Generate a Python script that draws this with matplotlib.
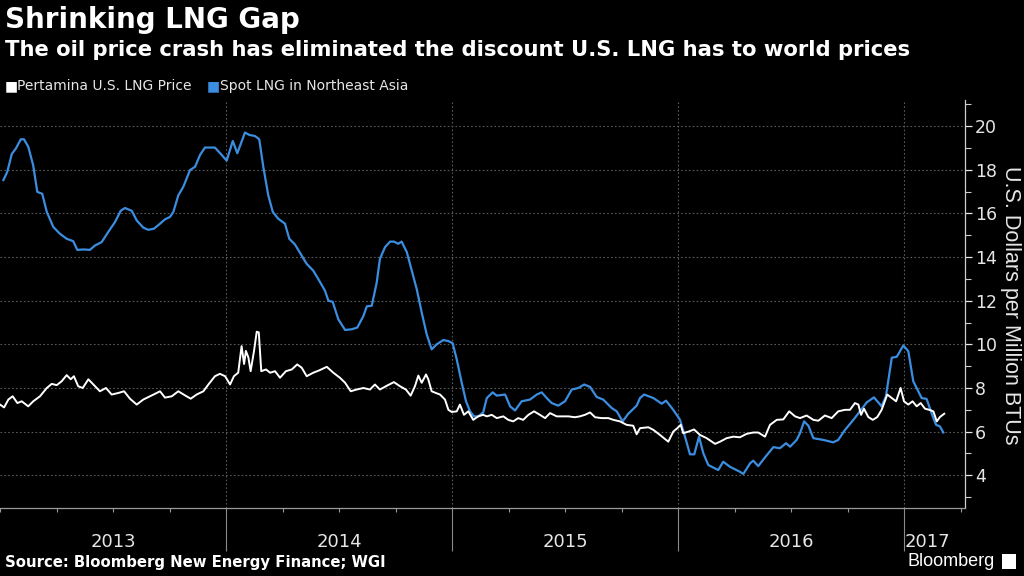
import matplotlib
matplotlib.use("Agg")
import matplotlib.pyplot as plt
import matplotlib.transforms as mtransforms
from matplotlib.ticker import MultipleLocator, FixedLocator
import numpy as np

# ---------------- data (decimal years, US$/MMBtu) ----------------
spot_x = [2013.015, 2013.032, 2013.052, 2013.071, 2013.092, 2013.106, 2013.125, 2013.147, 2013.165, 2013.187,
          2013.207, 2013.236, 2013.265, 2013.295, 2013.324, 2013.342, 2013.369, 2013.398, 2013.420, 2013.450,
          2013.479, 2013.509, 2013.534, 2013.553, 2013.583, 2013.605, 2013.634, 2013.656, 2013.681, 2013.708,
          2013.730, 2013.752, 2013.767, 2013.789, 2013.811, 2013.841, 2013.863, 2013.885, 2013.907, 2013.951,
          2013.981, 2014.003, 2014.030, 2014.050, 2014.084, 2014.103, 2014.128, 2014.147, 2014.165, 2014.187,
          2014.207, 2014.231, 2014.261, 2014.280, 2014.305, 2014.335, 2014.357, 2014.386, 2014.408, 2014.438,
          2014.453, 2014.472, 2014.497, 2014.527, 2014.556, 2014.581, 2014.608, 2014.623, 2014.645, 2014.667,
          2014.681, 2014.704, 2014.726, 2014.743, 2014.762, 2014.777, 2014.800, 2014.822, 2014.844, 2014.866,
          2014.888, 2014.910, 2014.932, 2014.962, 2014.984, 2015.003, 2015.021, 2015.043, 2015.062, 2015.080,
          2015.097, 2015.116, 2015.138, 2015.154, 2015.180, 2015.198, 2015.235, 2015.257, 2015.279, 2015.308,
          2015.345, 2015.375, 2015.397, 2015.419, 2015.441, 2015.470, 2015.500, 2015.530, 2015.559, 2015.585,
          2015.611, 2015.640, 2015.669, 2015.707, 2015.729, 2015.755, 2015.780, 2015.817, 2015.832, 2015.850,
          2015.891, 2015.928, 2015.947, 2015.979, 2016.009, 2016.031, 2016.053, 2016.072, 2016.093, 2016.112,
          2016.134, 2016.178, 2016.200, 2016.230, 2016.274, 2016.289, 2016.319, 2016.333, 2016.355, 2016.385,
          2016.422, 2016.451, 2016.478, 2016.496, 2016.525, 2016.540, 2016.558, 2016.577, 2016.599, 2016.643,
          2016.687, 2016.709, 2016.739, 2016.776, 2016.805, 2016.835, 2016.867, 2016.901, 2016.920, 2016.946,
          2016.968, 2016.997, 2017.019, 2017.041, 2017.078, 2017.100, 2017.127, 2017.142, 2017.159, 2017.174]
spot_y = [17.53, 17.90, 18.72, 18.99, 19.40, 19.40, 19.06, 18.20, 16.99, 16.90,
          16.07, 15.38, 15.07, 14.84, 14.73, 14.33, 14.35, 14.33, 14.53, 14.69,
          15.15, 15.61, 16.12, 16.25, 16.12, 15.68, 15.35, 15.25, 15.30, 15.53,
          15.73, 15.84, 16.07, 16.83, 17.22, 17.99, 18.14, 18.68, 19.02, 19.02,
          18.68, 18.42, 19.32, 18.76, 19.71, 19.60, 19.55, 19.40, 18.14, 16.83,
          16.07, 15.76, 15.53, 14.84, 14.58, 14.07, 13.69, 13.38, 13.00, 12.46,
          12.00, 11.95, 11.15, 10.66, 10.69, 10.77, 11.30, 11.74, 11.77, 12.84,
          13.92, 14.46, 14.71, 14.71, 14.61, 14.71, 14.23, 13.38, 12.53, 11.46,
          10.46, 9.77, 10.00, 10.20, 10.15, 10.05, 9.31, 8.24, 7.39, 6.93,
          6.70, 6.70, 6.88, 7.54, 7.80, 7.65, 7.70, 7.16, 6.97, 7.39,
          7.47, 7.70, 7.80, 7.54, 7.31, 7.19, 7.39, 7.93, 8.00, 8.16,
          8.05, 7.59, 7.47, 7.08, 6.93, 6.47, 6.82, 7.19, 7.54, 7.70,
          7.54, 7.28, 7.42, 7.00, 6.54, 5.77, 4.96, 4.96, 5.77, 5.01,
          4.47, 4.24, 4.62, 4.39, 4.16, 4.06, 4.55, 4.67, 4.42, 4.82,
          5.29, 5.24, 5.47, 5.31, 5.62, 5.93, 6.47, 6.27, 5.70, 5.62,
          5.51, 5.62, 6.08, 6.54, 6.93, 7.34, 7.57, 7.16, 7.62, 9.39,
          9.43, 9.95, 9.69, 8.31, 7.54, 7.50, 6.70, 6.31, 6.24, 5.96]

pert_x = [2013.000, 2013.018, 2013.037, 2013.056, 2013.077, 2013.096, 2013.125, 2013.147, 2013.177, 2013.207,
          2013.229, 2013.251, 2013.273, 2013.295, 2013.313, 2013.327, 2013.346, 2013.366, 2013.391, 2013.413,
          2013.442, 2013.469, 2013.494, 2013.523, 2013.549, 2013.575, 2013.605, 2013.634, 2013.664, 2013.693,
          2013.708, 2013.730, 2013.760, 2013.789, 2013.819, 2013.844, 2013.870, 2013.900, 2013.922, 2013.951,
          2013.973, 2013.996, 2014.018, 2014.035, 2014.054, 2014.069, 2014.080, 2014.088, 2014.099, 2014.109,
          2014.124, 2014.136, 2014.145, 2014.156, 2014.177, 2014.195, 2014.217, 2014.239, 2014.265, 2014.291,
          2014.315, 2014.335, 2014.357, 2014.386, 2014.413, 2014.446, 2014.475, 2014.504, 2014.527, 2014.552,
          2014.578, 2014.608, 2014.637, 2014.659, 2014.681, 2014.711, 2014.743, 2014.770, 2014.796, 2014.817,
          2014.836, 2014.851, 2014.866, 2014.885, 2014.895, 2014.910, 2014.929, 2014.947, 2014.969, 2014.984,
          2014.999, 2015.021, 2015.035, 2015.053, 2015.072, 2015.094, 2015.116, 2015.138, 2015.154, 2015.176,
          2015.198, 2015.227, 2015.249, 2015.271, 2015.293, 2015.315, 2015.338, 2015.363, 2015.389, 2015.412,
          2015.434, 2015.463, 2015.492, 2015.515, 2015.544, 2015.566, 2015.588, 2015.611, 2015.633, 2015.662,
          2015.692, 2015.714, 2015.743, 2015.773, 2015.802, 2015.817, 2015.832, 2015.869, 2015.891, 2015.920,
          2015.957, 2015.979, 2015.997, 2016.012, 2016.023, 2016.046, 2016.071, 2016.097, 2016.127, 2016.164,
          2016.186, 2016.215, 2016.245, 2016.274, 2016.304, 2016.333, 2016.355, 2016.385, 2016.407, 2016.437,
          2016.466, 2016.492, 2016.518, 2016.540, 2016.569, 2016.599, 2016.621, 2016.650, 2016.680, 2016.709,
          2016.739, 2016.761, 2016.783, 2016.798, 2016.810, 2016.823, 2016.842, 2016.862, 2016.882, 2016.901,
          2016.926, 2016.946, 2016.965, 2016.985, 2017.000, 2017.019, 2017.038, 2017.056, 2017.074, 2017.093,
          2017.112, 2017.130, 2017.145, 2017.159, 2017.178]
pert_y = [7.24, 7.11, 7.47, 7.62, 7.31, 7.39, 7.16, 7.39, 7.62, 8.00,
          8.19, 8.13, 8.31, 8.59, 8.40, 8.54, 8.08, 8.00, 8.40, 8.16,
          7.85, 8.00, 7.70, 7.77, 7.85, 7.51, 7.24, 7.47, 7.62, 7.77,
          7.85, 7.56, 7.62, 7.85, 7.66, 7.51, 7.70, 7.85, 8.16, 8.54,
          8.65, 8.54, 8.16, 8.54, 8.70, 9.92, 9.10, 9.70, 9.40, 8.77,
          9.70, 10.58, 10.55, 8.77, 8.85, 8.70, 8.77, 8.47, 8.77, 8.85,
          9.08, 8.93, 8.54, 8.70, 8.81, 8.97, 8.70, 8.47, 8.24, 7.85,
          7.93, 8.00, 7.93, 8.16, 7.93, 8.10, 8.27, 8.08, 7.93, 7.65,
          8.08, 8.57, 8.24, 8.62, 8.40, 7.85, 7.77, 7.70, 7.47, 7.00,
          6.90, 6.93, 7.24, 6.77, 6.93, 6.54, 6.70, 6.77, 6.70, 6.77,
          6.62, 6.70, 6.54, 6.47, 6.62, 6.54, 6.77, 6.93, 6.77, 6.62,
          6.85, 6.70, 6.70, 6.70, 6.66, 6.70, 6.77, 6.88, 6.66, 6.62,
          6.62, 6.54, 6.47, 6.31, 6.27, 5.88, 6.16, 6.20, 6.08, 5.85,
          5.54, 6.00, 6.16, 6.31, 5.93, 6.00, 6.10, 5.85, 5.70, 5.44,
          5.54, 5.70, 5.77, 5.74, 5.90, 5.96, 5.96, 5.77, 6.31, 6.54,
          6.56, 6.93, 6.70, 6.62, 6.74, 6.54, 6.50, 6.74, 6.62, 6.93,
          7.00, 7.00, 7.31, 7.24, 6.77, 7.05, 6.67, 6.54, 6.67, 7.00,
          7.70, 7.54, 7.39, 8.00, 7.39, 7.24, 7.39, 7.16, 7.31, 7.05,
          7.00, 6.93, 6.47, 6.67, 6.82]

years = [2013, 2014, 2015, 2016, 2017]
y_ticks = [4, 6, 8, 10, 12, 14, 16, 18, 20]

title = "Shrinking LNG Gap"
subtitle = "The oil price crash has eliminated the discount U.S. LNG has to world prices"
legend_labels = ["Pertamina U.S. LNG Price", "Spot LNG in Northeast Asia"]
y_label = "U.S. Dollars per Million BTUs"
source = "Source: Bloomberg New Energy Finance; WGI"

# ---------------- style ----------------
BG = "#000000"
WHITE = "#ffffff"
BLUE = "#3b8de0"
GRID = "#5a5a5a"
TXT = "#e6e6e6"
plt.rcParams["font.family"] = ["DejaVu Sans"]
LIB = ["Liberation Sans", "DejaVu Sans"]

fig = plt.figure(figsize=(10.24, 5.76), dpi=100, facecolor=BG)
ax = fig.add_axes([0.0, 1 - 508 / 576, 965 / 1024, (508 - 100) / 576], facecolor=BG)

ax.plot(spot_x, spot_y, color=BLUE, lw=1.6, zorder=3)
ax.plot(pert_x, pert_y, color=WHITE, lw=1.4, zorder=4)

ax.set_xlim(2013.0, 2013 + 965 / 226)
ax.set_ylim(2.5, 21.2)

# spines
for s in ["top", "left"]:
    ax.spines[s].set_visible(False)
ax.spines["right"].set_color("#cfcfcf")
ax.spines["bottom"].set_color("#9a9a9a")
ax.spines["right"].set_linewidth(0.9)
ax.spines["bottom"].set_linewidth(0.9)

# y axis on right
ax.yaxis.tick_right()
ax.set_yticks(y_ticks)
ax.set_yticklabels([str(v) for v in y_ticks])
ax.yaxis.set_minor_locator(FixedLocator([v + 1 for v in y_ticks[:-1]] + [3, 21]))
ax.tick_params(axis="y", which="major", colors=TXT, labelsize=12.5, length=5, width=0.9, pad=2, direction="out")
ax.tick_params(axis="y", which="minor", colors="#cfcfcf", length=4, width=0.8, direction="out")

# y-axis title, placed in figure pixels to the right of the tick labels
fig.text(1011 / 1024, 1 - 305 / 576, y_label, rotation=270, color=TXT, fontsize=15.5, family=LIB,
         ha="center", va="center")

# horizontal dotted grid
for v in y_ticks:
    ax.axhline(v, color=GRID, lw=0.8, ls=(0, (1.5, 2.0)), zorder=1)
# vertical dotted grid at year boundaries
for yr in years[1:]:
    ax.axvline(yr, color=GRID, lw=0.8, ls=(0, (1.5, 2.0)), zorder=1)

# x ticks: year separators (long) + quarters (short)
ax.set_xticks(years[1:])
ax.set_xticklabels([])
ax.xaxis.set_minor_locator(MultipleLocator(0.25))
ax.tick_params(axis="x", which="major", length=31, width=0.8, color="#8a8a8a", direction="out")
ax.tick_params(axis="x", which="minor", length=3, width=0.8, color="#9a9a9a", direction="out")

trans = mtransforms.blended_transform_factory(ax.transData, ax.transAxes)
x_end = 2013 + 965 / 226
for yr in years:
    right = min(yr + 1, x_end)
    ax.text((yr + right) / 2 - (0.03 if yr == 2017 else 0), -0.083, str(yr), transform=trans,
            ha="center", va="center", color=TXT, fontsize=13)

# titles
fig.text(5 / 1024, 1 - 20 / 576, title, color=WHITE, fontsize=20, fontweight="bold",
         ha="left", va="center")
fig.text(5 / 1024, 1 - 50 / 576, subtitle, color=WHITE, fontsize=15.2, fontweight="bold",
         ha="left", va="center")

# legend
fig.text(5 / 1024, 1 - 86 / 576, "■", color=WHITE, fontsize=10, ha="left", va="center")
fig.text(17 / 1024, 1 - 86 / 576, legend_labels[0], color=TXT, fontsize=10, ha="left", va="center")
fig.text(207 / 1024, 1 - 86 / 576, "■", color=BLUE, fontsize=10, ha="left", va="center")
fig.text(220 / 1024, 1 - 86 / 576, legend_labels[1], color=TXT, fontsize=10, ha="left", va="center")

# footer
fig.text(5 / 1024, 1 - 563 / 576, source, color=WHITE, fontsize=10.7, fontweight="bold",
         ha="left", va="center")
fig.text(995 / 1024, 1 - 561 / 576, "Bloomberg", color=WHITE, fontsize=13,
         ha="right", va="center", family=LIB)
fig.patches.append(matplotlib.patches.Rectangle((1002 / 1024, 1 - 569 / 576), 14 / 1024, 15 / 576,
                                                transform=fig.transFigure, facecolor=WHITE,
                                                edgecolor="none"))

fig.savefig("out.png", dpi=100, facecolor=BG)
